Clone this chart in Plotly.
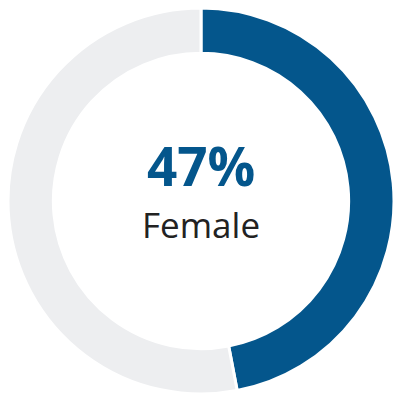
import plotly.graph_objects as go

labels = ["Female", "Other"]
values = [47, 53]
colors = ["#04568C", "#EDEEF0"]

fig = go.Figure()

fig.add_trace(go.Pie(
    labels=labels,
    values=values,
    hole=0.765,
    sort=False,
    direction="clockwise",
    rotation=0,
    marker=dict(colors=colors, line=dict(color="white", width=3)),
    textinfo="none",
    hoverinfo="label+percent",
    showlegend=False,
))

# centre label
fig.add_annotation(
    text="<b>47%</b>", x=0.5, y=0.592, xref="paper", yref="paper",
    showarrow=False, font=dict(family="Open Sans", size=53, color="#04568C"),
)
fig.add_annotation(
    text="Female", x=0.5, y=0.438, xref="paper", yref="paper",
    showarrow=False, font=dict(family="Open Sans", size=35, color="#222222"),
)

# page body has an 8px margin, so keep the figure inside the window
fig.update_layout(
    width=393,
    height=392,
    margin=dict(l=0, r=7, t=0, b=6),
    paper_bgcolor="white",
    plot_bgcolor="white",
)

fig.write_html("out.html")
